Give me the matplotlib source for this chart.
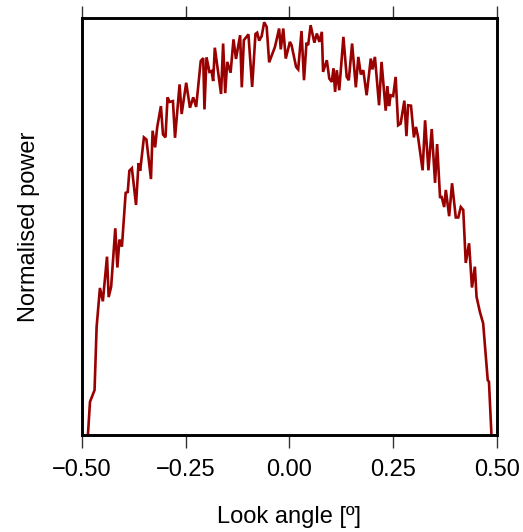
import matplotlib
matplotlib.use("Agg")
import matplotlib.pyplot as plt

plt.rcParams['font.family'] = ['Liberation Sans', 'DejaVu Sans']

# look angle (deg) and normalised power
angle = [-0.486, -0.481, -0.470, -0.465, -0.457, -0.450, -0.440, -0.436, -0.430, -0.420,
         -0.415, -0.410, -0.404, -0.395, -0.390, -0.386, -0.380, -0.370, -0.364, -0.360,
         -0.351, -0.345, -0.334, -0.330, -0.324, -0.319, -0.310, -0.305, -0.299, -0.294,
         -0.289, -0.281, -0.276, -0.265, -0.260, -0.249, -0.240, -0.232, -0.225, -0.214,
         -0.208, -0.205, -0.200, -0.193, -0.188, -0.184, -0.180, -0.165, -0.160, -0.155,
         -0.150, -0.142, -0.135, -0.129, -0.119, -0.115, -0.110, -0.099, -0.090, -0.082,
         -0.078, -0.073, -0.067, -0.061, -0.055, -0.049, -0.035, -0.025, -0.021, -0.015,
         -0.009, 0.001, 0.005, 0.016, 0.021, 0.029, 0.035, 0.041, 0.045, 0.051,
         0.060, 0.066, 0.072, 0.078, 0.081, 0.090, 0.096, 0.102, 0.106, 0.110,
         0.114, 0.120, 0.130, 0.138, 0.143, 0.151, 0.160, 0.166, 0.172, 0.178,
         0.186, 0.196, 0.200, 0.206, 0.216, 0.222, 0.232, 0.236, 0.240, 0.244,
         0.250, 0.256, 0.262, 0.268, 0.277, 0.282, 0.286, 0.293, 0.300, 0.305,
         0.310, 0.321, 0.327, 0.335, 0.343, 0.351, 0.356, 0.363, 0.367, 0.373,
         0.377, 0.385, 0.392, 0.401, 0.407, 0.413, 0.419, 0.425, 0.433, 0.440,
         0.447, 0.451, 0.459, 0.467, 0.478, 0.481, 0.487]
power = [0.000, 0.080, 0.108, 0.260, 0.353, 0.321, 0.428, 0.331, 0.356, 0.496,
         0.402, 0.469, 0.452, 0.581, 0.583, 0.634, 0.640, 0.552, 0.652, 0.634,
         0.714, 0.709, 0.614, 0.730, 0.690, 0.738, 0.789, 0.721, 0.714, 0.810,
         0.799, 0.801, 0.713, 0.841, 0.770, 0.845, 0.785, 0.810, 0.787, 0.897,
         0.904, 0.781, 0.906, 0.871, 0.873, 0.849, 0.929, 0.818, 0.939, 0.820,
         0.895, 0.869, 0.949, 0.902, 0.959, 0.834, 0.947, 0.961, 0.835, 0.962,
         0.965, 0.946, 0.957, 0.990, 0.979, 0.894, 0.931, 0.975, 0.925, 0.975,
         0.903, 0.943, 0.935, 0.883, 0.877, 0.969, 0.851, 0.941, 0.935, 0.983,
         0.941, 0.963, 0.943, 0.967, 0.871, 0.899, 0.855, 0.847, 0.879, 0.823,
         0.875, 0.827, 0.955, 0.859, 0.851, 0.939, 0.834, 0.907, 0.865, 0.875,
         0.815, 0.903, 0.877, 0.907, 0.791, 0.895, 0.778, 0.837, 0.789, 0.815,
         0.813, 0.859, 0.743, 0.747, 0.802, 0.717, 0.791, 0.790, 0.714, 0.739,
         0.715, 0.635, 0.755, 0.635, 0.734, 0.605, 0.698, 0.571, 0.571, 0.547,
         0.588, 0.525, 0.604, 0.522, 0.522, 0.547, 0.540, 0.413, 0.460, 0.354,
         0.404, 0.332, 0.296, 0.268, 0.132, 0.128, 0.000]

xticks = [-0.5, -0.25, 0.0, 0.25, 0.5]
xtick_labels = ['\u22120.50', '\u22120.25', '0.00', '0.25', '0.50']

fig = plt.figure(figsize=(5.23, 5.32), dpi=100)
ax = fig.add_axes([0.157, 0.182, 0.793, 0.784])

ax.plot(angle, power, color='#990000', linewidth=1.9, solid_joinstyle='miter')

ax.set_xlim(-0.5, 0.5)
ax.set_ylim(0, 1)
ax.set_xticks(xticks)
ax.set_xticklabels(xtick_labels, fontsize=17)
ax.set_yticks([])
ax.tick_params(axis='x', which='both', top=True, direction='out', length=9,
               width=1.0, color='#333333', pad=8)

for s in ax.spines.values():
    s.set_linewidth(2.1)
    s.set_color('black')

ax.set_xlabel('Look angle [º]', fontsize=17, labelpad=18)
ax.set_ylabel('Normalised power', fontsize=17, labelpad=30)

fig.savefig('out.png', dpi=100)
